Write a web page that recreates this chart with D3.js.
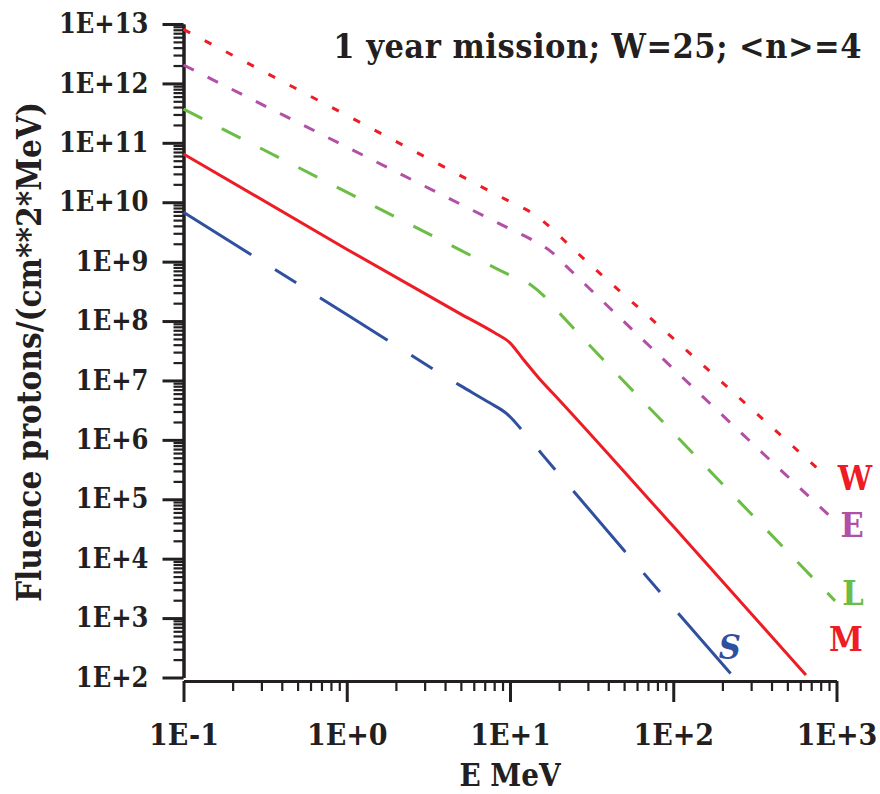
<!DOCTYPE html>
<html>
<head>
<meta charset="utf-8">
<script src="https://cdn.jsdelivr.net/npm/d3@7"></script>
<style>
  body { margin: 0; background: #fff; }
  svg text { font-family: 'DejaVu Serif Condensed', 'DejaVu Serif', serif; font-weight: bold; font-stretch: condensed; }
</style>
</head>
<body>
<div id="chart"></div>
<script>
// energies in MeV, fluence in protons/(cm^2 MeV)
const energyW  = [0.1, 1, 10, 14, 18, 23, 100, 885];
const fluenceW = [8.1e12, 2.9e11, 1.02e10, 6.3e9, 3.6e9, 1.9e9, 5.1e7, 2.3e5];

const energyE  = [0.1, 1, 10, 14, 18, 22, 100, 940];
const fluenceE = [2.04e12, 8.5e10, 3.55e9, 2.24e9, 1.45e9, 8.5e8, 1.58e7, 4.8e4];

const energyL  = [0.1, 1, 5, 10, 13.5, 16, 20, 100, 980];
const fluenceL = [3.7e11, 1.48e10, 1.55e9, 5.9e8, 4.0e8, 2.7e8, 1.38e8, 1.32e6, 1.95e3];

const energyM  = [0.1, 1, 5, 8, 10, 12, 15, 20, 100, 650];
const fluenceM = [6.5e10, 1.62e9, 1.31e8, 6.4e7, 4.3e7, 2.3e7, 1.1e7, 4.7e6, 3.5e4, 110];

const energyS  = [0.1, 1, 5, 7.5, 9.5, 12.3, 15.7, 20, 100, 232];
const fluenceS = [6.8e9, 1.29e8, 8.1e6, 4.2e6, 2.8e6, 1.29e6, 5.75e5, 2.63e5, 1.51e3, 105];

const seriesNames = ['W', 'E', 'L', 'M', 'S'];

const xTickValues = [0.1, 1, 10, 100, 1000];
const xTickLabels = ['1E-1', '1E+0', '1E+1', '1E+2', '1E+3'];
const yTickValues = [1e2, 1e3, 1e4, 1e5, 1e6, 1e7, 1e8, 1e9, 1e10, 1e11, 1e12, 1e13];
const yTickLabels = ['1E+2', '1E+3', '1E+4', '1E+5', '1E+6', '1E+7', '1E+8', '1E+9', '1E+10', '1E+11', '1E+12', '1E+13'];

const titleText = '1 year mission; W=25; <n>=4';
const xTitle = 'E MeV';
const yTitle = 'Fluence protons/(cm**2*MeV)';

class FluenceChart {
  constructor(aims) {
    this.chartContainer = d3.select(aims);
    this.chartWidth = 880;
    this.chartHeight = 794;
    this.left = 183.5;
    this.right = 836.5;
    this.top = 24;
    this.bottom = 677.5;
    this.xAxisY = 681;
    this.series = [
      { name: seriesNames[0], x: energyW, y: fluenceW, color: '#ee1c25', dash: '7.5,16.5', lab: [27, 12], italic: false },
      { name: seriesNames[1], x: energyE, y: fluenceE, color: '#b24fa6', dash: '11.5,15.5', lab: [20, 19], italic: false },
      { name: seriesNames[2], x: energyL, y: fluenceL, color: '#6bbd45', dash: '21,22', lab: [18, 4], italic: false },
      { name: seriesNames[3], x: energyM, y: fluenceM, color: '#ee1c25', dash: null, lab: [40, -24], italic: false },
      { name: seriesNames[4], x: energyS, y: fluenceS, color: '#2f4f9f', dash: '80,28,25,28', lab: [-3, -17], italic: true }
    ];
  }

  render() {
    this.createSvg();
    this.initScales();
    this.drawAxes();
    this.drawLines();
    this.drawLabels();
  }

  createSvg() {
    this.chart = this.chartContainer
      .append('svg')
      .attr('width', this.chartWidth)
      .attr('height', this.chartHeight);
  }

  initScales() {
    this.xScale = d3.scaleLog().domain([0.1, 1000]).range([this.left, this.right]);
    this.yScale = d3.scaleLog().domain([1e2, 1e13]).range([this.bottom, this.top]);
  }

  minorTicks(lo, hi) {
    let out = [];
    for (let p = lo; p < hi; p++) {
      for (let k = 2; k <= 9; k++) out.push(k * Math.pow(10, p));
    }
    return out;
  }

  styleAxis(g, size) {
    g.attr('font-family', null).attr('font-size', null);
    g.select('.domain').attr('stroke', '#231f20').attr('stroke-width', 3);
    g.selectAll('.tick line').attr('stroke', '#231f20').attr('stroke-width', size);
    g.selectAll('.tick text').attr('fill', '#231f20');
  }

  drawAxes() {
    // y axis: minor ticks first, then majors with labels
    let yMinor = this.chart.append('g')
      .attr('transform', 'translate(' + this.left + ',0)')
      .call(d3.axisLeft(this.yScale).tickValues(this.minorTicks(2, 13)).tickSize(10).tickSizeOuter(0).tickFormat(''));
    this.styleAxis(yMinor, 2.2);

    let yMajor = this.chart.append('g')
      .attr('transform', 'translate(' + this.left + ',0)')
      .call(d3.axisLeft(this.yScale).tickValues(yTickValues).tickSize(21).tickSizeOuter(0).tickPadding(14)
        .tickFormat((d, i) => yTickLabels[i]));
    this.styleAxis(yMajor, 3);
    yMajor.selectAll('.tick text').style('font-size', '27px');

    let xMinor = this.chart.append('g')
      .attr('transform', 'translate(0,' + this.xAxisY + ')')
      .call(d3.axisBottom(this.xScale).tickValues(this.minorTicks(-1, 3)).tickSize(10).tickSizeOuter(0).tickFormat(''));
    this.styleAxis(xMinor, 2.2);

    let xMajor = this.chart.append('g')
      .attr('transform', 'translate(0,' + this.xAxisY + ')')
      .call(d3.axisBottom(this.xScale).tickValues(xTickValues).tickSize(21).tickSizeOuter(0).tickPadding(22)
        .tickFormat((d, i) => xTickLabels[i]));
    this.styleAxis(xMajor, 3);
    xMajor.selectAll('.tick text').style('font-size', '30px');

    this.chart.append('text')
      .attr('x', 510)
      .attr('y', 786)
      .attr('text-anchor', 'middle')
      .attr('fill', '#231f20')
      .style('font-size', '31px')
      .text(xTitle);

    this.chart.append('text')
      .attr('transform', 'translate(41,352) rotate(-90)')
      .attr('text-anchor', 'middle')
      .attr('fill', '#231f20')
      .style('font-size', '33px')
      .text(yTitle);

    this.chart.append('text')
      .attr('x', 862)
      .attr('y', 58)
      .attr('text-anchor', 'end')
      .attr('fill', '#231f20')
      .style('font-size', '34px')
      .style('letter-spacing', '0.5px')
      .text(titleText);
  }

  drawLines() {
    let line = d3.line()
      .x(d => this.xScale(d[0]))
      .y(d => this.yScale(d[1]))
      .curve(d3.curveMonotoneX);

    this.chart.append('g')
      .attr('class', 'c-lines')
      .selectAll('path')
      .data(this.series)
      .enter()
      .append('path')
      .attr('d', s => line(s.x.map((e, i) => [e, s.y[i]])))
      .attr('fill', 'none')
      .attr('stroke', s => s.color)
      .attr('stroke-width', 3)
      .attr('stroke-dasharray', s => s.dash);
  }

  drawLabels() {
    this.chart.append('g')
      .selectAll('text')
      .data(this.series)
      .enter()
      .append('text')
      .attr('x', s => this.xScale(s.x[s.x.length - 1]) + s.lab[0])
      .attr('y', s => this.yScale(s.y[s.y.length - 1]) + s.lab[1])
      .attr('text-anchor', 'middle')
      .attr('fill', s => s.color)
      .style('font-size', '34px')
      .style('font-style', s => s.italic ? 'italic' : 'normal')
      .text(s => s.name);
  }
}

new FluenceChart('#chart').render();
</script>
</body>
</html>
